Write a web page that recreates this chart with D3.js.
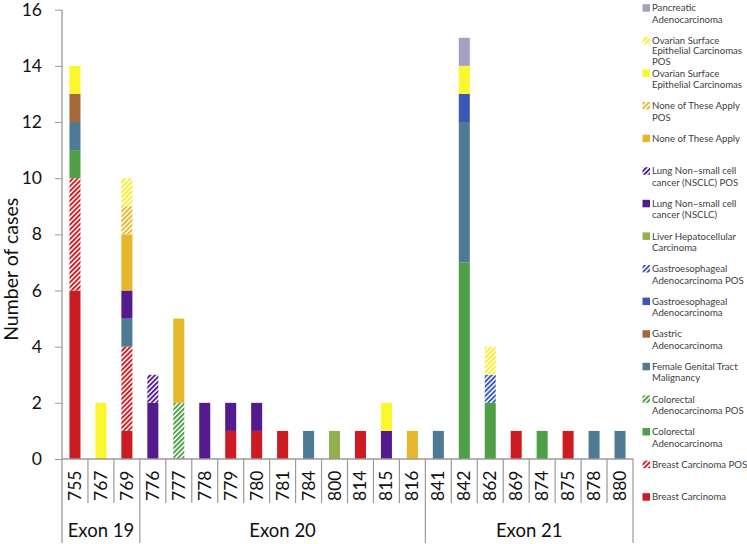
<!DOCTYPE html>
<html>
<head>
<meta charset="utf-8">
<script src="https://cdn.jsdelivr.net/npm/d3@7/dist/d3.min.js"></script>
<style>
  html, body { margin: 0; padding: 0; background: #fff; }
  svg { display: block; font-family: Lato, "Open Sans", "Liberation Sans", sans-serif; }
</style>
</head>
<body>
<svg id="chart" width="747" height="544"></svg>
<script>
const categories = ["755","767","769","776","777","778","779","780","781","784","800","814","815","816","841","842","862","869","874","875","878","880"];
const exonGroups = ["Exon 19","Exon 20","Exon 21"];
const exonOf     = [0,0,0,1,1,1,1,1,1,1,1,1,1,1,2,2,2,2,2,2,2,2];
const yTicks = [0,2,4,6,8,10,12,14,16];

// series values (bottom to top of stacks)
const breast        = [6,0,1,0,0,0,1,1,1,0,0,1,0,0,0,0,0,1,0,1,0,0];
const breastPOS     = [4,0,3,0,0,0,0,0,0,0,0,0,0,0,0,0,0,0,0,0,0,0];
const colorectal    = [1,0,0,0,0,0,0,0,0,0,0,0,0,0,0,7,2,0,1,0,0,0];
const colorectalPOS = [0,0,0,0,2,0,0,0,0,0,0,0,0,0,0,0,0,0,0,0,0,0];
const femaleGenital = [1,0,1,0,0,0,0,0,0,1,0,0,0,0,1,5,0,0,0,0,1,1];
const gastric       = [1,0,0,0,0,0,0,0,0,0,0,0,0,0,0,0,0,0,0,0,0,0];
const gastroeso     = [0,0,0,0,0,0,0,0,0,0,0,0,0,0,0,1,0,0,0,0,0,0];
const gastroesoPOS  = [0,0,0,0,0,0,0,0,0,0,0,0,0,0,0,0,1,0,0,0,0,0];
const liver         = [0,0,0,0,0,0,0,0,0,0,1,0,0,0,0,0,0,0,0,0,0,0];
const lung          = [0,0,1,2,0,2,1,1,0,0,0,0,1,0,0,0,0,0,0,0,0,0];
const lungPOS       = [0,0,0,1,0,0,0,0,0,0,0,0,0,0,0,0,0,0,0,0,0,0];
const noneApply     = [0,0,2,0,3,0,0,0,0,0,0,0,0,1,0,0,0,0,0,0,0,0];
const noneApplyPOS  = [0,0,1,0,0,0,0,0,0,0,0,0,0,0,0,0,0,0,0,0,0,0];
const ovarian       = [1,2,0,0,0,0,0,0,0,0,0,0,1,0,0,1,0,0,0,0,0,0];
const ovarianPOS    = [0,0,1,0,0,0,0,0,0,0,0,0,0,0,0,0,1,0,0,0,0,0];
const pancreatic    = [0,0,0,0,0,0,0,0,0,0,0,0,0,0,0,1,0,0,0,0,0,0];

const seriesDefs = [
  {key:"breast", values:breast, color:"#CC1B22", pos:false, label:["Breast Carcinoma"]},
  {key:"breastPOS", values:breastPOS, color:"#CC1B22", pos:true, label:["Breast Carcinoma POS"]},
  {key:"colorectal", values:colorectal, color:"#4E9F45", pos:false, label:["Colorectal","Adenocarcinoma"]},
  {key:"colorectalPOS", values:colorectalPOS, color:"#4E9F45", pos:true, label:["Colorectal","Adenocarcinoma POS"]},
  {key:"femaleGenital", values:femaleGenital, color:"#4E7A93", pos:false, label:["Female Genital Tract","Malignancy"]},
  {key:"gastric", values:gastric, color:"#A8693A", pos:false, label:["Gastric","Adenocarcinoma"]},
  {key:"gastroeso", values:gastroeso, color:"#3A58B4", pos:false, label:["Gastroesophageal","Adenocarcinoma"]},
  {key:"gastroesoPOS", values:gastroesoPOS, color:"#3A58B4", pos:true, label:["Gastroesophageal","Adenocarcinoma POS"]},
  {key:"liver", values:liver, color:"#93B04F", pos:false, label:["Liver Hepatocellular","Carcinoma"]},
  {key:"lung", values:lung, color:"#531C8E", pos:false, label:["Lung Non\u2013small cell","cancer (NSCLC)"]},
  {key:"lungPOS", values:lungPOS, color:"#531C8E", pos:true, label:["Lung Non\u2013small cell","cancer (NSCLC) POS"]},
  {key:"noneApply", values:noneApply, color:"#E6B72A", pos:false, label:["None of These Apply"]},
  {key:"noneApplyPOS", values:noneApplyPOS, color:"#E6B72A", pos:true, label:["None of These Apply","POS"]},
  {key:"ovarian", values:ovarian, color:"#FAF72C", pos:false, label:["Ovarian Surface","Epithelial Carcinomas"]},
  {key:"ovarianPOS", values:ovarianPOS, color:"#F7EE2C", pos:true, label:["Ovarian Surface","Epithelial Carcinomas","POS"]},
  {key:"pancreatic", values:pancreatic, color:"#A89FC4", pos:false, label:["Pancreatic","Adenocarcinoma"]}
];

const table = categories.map((c, i) => {
  const row = {cat: c};
  seriesDefs.forEach(s => row[s.key] = s.values[i]);
  return row;
});

const svg = d3.select("#chart");
const mLeft = 62, mRight = 633, mTop = 9.7, mBottom = 459;

const x = d3.scaleBand().domain(categories).range([mLeft, mRight])
  .paddingInner(0.575).paddingOuter(0.2875);
const y = d3.scaleLinear().domain([0, 16]).range([mBottom, mTop]);
const step = x.step();

// hatch patterns
const defs = svg.append("defs");
seriesDefs.filter(s => s.pos).forEach(s => {
  const p = defs.append("pattern").attr("id", "hatch-" + s.key)
    .attr("patternUnits", "userSpaceOnUse").attr("width", 3.4).attr("height", 3.4)
    .attr("patternTransform", "rotate(45)");
  p.append("rect").attr("width", 3.4).attr("height", 3.4).attr("fill", "#fff");
  p.append("rect").attr("width", 1.9).attr("height", 3.4).attr("fill", s.color);
});
const fillOf = s => s.pos ? "url(#hatch-" + s.key + ")" : s.color;

const stack = d3.stack().keys(seriesDefs.map(s => s.key));
const layers = stack(table);

// bars
const g = svg.append("g");
layers.forEach((layer, li) => {
  const s = seriesDefs[li];
  g.selectAll(null).data(layer.filter(d => d[1] > d[0])).enter().append("rect")
    .attr("x", d => x(d.data.cat))
    .attr("width", x.bandwidth())
    .attr("y", d => y(d[1]))
    .attr("height", d => y(d[0]) - y(d[1]))
    .attr("fill", fillOf(s));
});

// y axis
const axisColor = "#9a9a9a";
const yAxis = d3.axisLeft(y).tickValues(yTicks).tickSize(7).tickPadding(13);
const ya = svg.append("g").attr("transform", `translate(${mLeft},0)`).call(yAxis);
ya.select(".domain").remove();
ya.selectAll(".tick line").attr("stroke", axisColor);
ya.selectAll(".tick text").attr("font-size", 17.5).attr("fill", "#111")
  .attr("font-family", "Lato, 'Open Sans', sans-serif");
svg.append("line").attr("x1", mLeft).attr("x2", mLeft).attr("y1", mTop).attr("y2", 543)
  .attr("stroke", axisColor).attr("stroke-width", 1.3);

// y label
svg.append("text")
  .attr("transform", `translate(18,${(mTop+mBottom)/2 + 35}) rotate(-90)`)
  .attr("text-anchor", "middle").attr("font-size", 19.5).attr("fill", "#111")
  .text("Number of cases");

// x axis baseline
svg.append("line").attr("x1", mLeft).attr("x2", mRight).attr("y1", mBottom).attr("y2", mBottom)
  .attr("stroke", axisColor).attr("stroke-width", 1.3);

// category separators
categories.forEach((c, i) => {
  if (i === 0) return;
  const isGroup = exonOf[i] !== exonOf[i-1];
  const sx = mLeft + i * step;
  svg.append("line").attr("x1", sx).attr("x2", sx).attr("y1", mBottom)
    .attr("y2", isGroup ? 543 : 503).attr("stroke", axisColor).attr("stroke-width", 1.2);
});
svg.append("line").attr("x1", mRight).attr("x2", mRight).attr("y1", mBottom).attr("y2", 543)
  .attr("stroke", axisColor).attr("stroke-width", 1.2);

// x tick labels
svg.selectAll(".xl").data(categories).enter().append("text")
  .attr("class", "xl")
  .attr("transform", d => `translate(${x(d) + x.bandwidth()/2 + 6},501) rotate(-90)`)
  .attr("text-anchor", "start").attr("font-size", 17.5).attr("fill", "#111")
  .text(d => d);

// exon group labels
exonGroups.forEach((gname, gi) => {
  const idx = exonOf.map((e, i) => e === gi ? i : -1).filter(i => i >= 0);
  const x0 = mLeft + idx[0] * step, x1 = mLeft + (idx[idx.length-1] + 1) * step;
  svg.append("text").attr("x", (x0 + x1) / 2).attr("y", 537)
    .attr("text-anchor", "middle").attr("font-size", 18.5).attr("fill", "#111")
    .text(gname);
});

// legend
const legendOrder = seriesDefs.slice().reverse();
const lg = svg.append("g");
legendOrder.forEach((s, i) => {
  const cy = 8 + i * 32.6;
  const lh = s.label.length > 2 ? 10.3 : 11.4;
  lg.append("rect").attr("x", 642.5).attr("y", cy - 3.8).attr("width", 7.5).attr("height", 7.5)
    .attr("fill", fillOf(s));
  s.label.forEach((line, li) => {
    lg.append("text").attr("x", 652).attr("y", cy + 3.3 + li * lh)
      .attr("font-size", 9.6).attr("fill", "#404040").text(line);
  });
});
</script>
</body>
</html>
